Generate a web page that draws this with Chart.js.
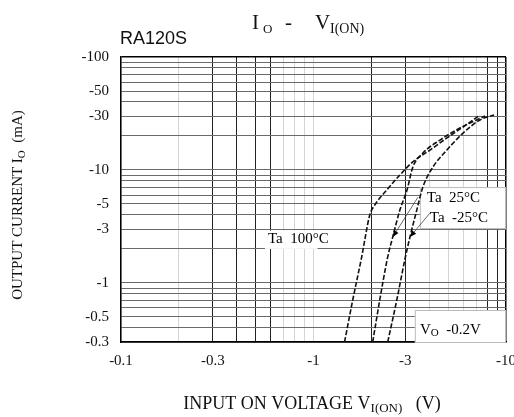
<!DOCTYPE html>
<html><head><meta charset="utf-8">
<script src="https://cdn.jsdelivr.net/npm/chart.js@4/dist/chart.umd.min.js"></script>
<style>html,body{margin:0;padding:0;background:#fff}#wrap{width:514px;height:417px;position:relative}</style>
</head><body><div id="wrap"><canvas id="c" width="514" height="417"></canvas></div>
<script>
// ---- data (magnitudes; axis labels carry the minus sign) ----
const seriesNames = ['Ta  100°C', 'Ta  25°C', 'Ta  -25°C'];
const vin100 = [1.45, 1.60, 1.78, 1.96, 2.08, 2.40, 2.81, 3.28, 4.03, 4.93, 5.98, 7.32];
const io100  = [0.30, 0.71, 1.70, 3.99, 4.89, 6.64, 9.02, 11.8, 15.0, 19.2, 24.0, 30.6];
const vin25  = [2.03, 2.21, 2.43, 2.58, 2.81, 3.06, 3.28, 3.70, 4.54, 5.76, 7.78];
const io25   = [0.30, 0.71, 1.70, 2.55, 4.42, 6.64, 10.6, 14.1, 18.4, 23.5, 30.0];
const vinM25 = [2.43, 2.71, 2.98, 3.17, 3.44, 3.70, 4.17, 4.93, 5.98, 7.32, 8.67];
const ioM25  = [0.30, 0.71, 1.60, 2.55, 4.42, 7.06, 10.6, 15.0, 21.2, 27.7, 30.6];

const xTickValues = [0.1, 0.3, 1, 3, 10];
const xTickLabels = ['-0.1', '-0.3', '-1', '-3', '-10'];
const yTickValues = [0.3, 0.5, 1, 3, 5, 10, 30, 50, 100];
const yTickLabels = ['-0.3', '-0.5', '-1', '-3', '-5', '-10', '-30', '-50', '-100'];

// annotation anchors in data units
const arrowTips = [[2.58, 2.55], [3.17, 2.55]];
const arrowTails = [[3.49, 5.74], [4.02, 4.14]];

function logGrid(min, max) {
  const out = [];
  for (let e = -2; e <= 3; e++) for (let m = 1; m <= 9; m++) {
    const v = +(m * Math.pow(10, e)).toPrecision(6);
    if (v >= min - 1e-9 && v <= max + 1e-9) out.push(v);
  }
  return out;
}
const xGrid = logGrid(0.1, 10);
const yGrid = logGrid(0.3, 100);
const near = (a, b) => Math.abs(a - b) / b < 1e-6;
const lookup = (v, vals, labs) => { const i = vals.findIndex(t => near(v, t)); return i >= 0 ? labs[i] : ''; };
const darkX = [0.3, 0.4, 0.5, 0.6, 2, 3, 8, 9];

const SERIF = '"Liberation Serif", "DejaVu Serif", serif';

function runs(ctx, x, y, parts) {
  let cx = x;
  for (const p of parts) {
    ctx.font = p.size + 'px ' + (p.family || SERIF);
    ctx.fillText(p.t, cx, y + (p.dy || 0));
    cx += ctx.measureText(p.t).width;
  }
  return cx - x;
}
function runsWidth(ctx, parts) {
  let w = 0;
  for (const p of parts) { ctx.font = p.size + 'px ' + (p.family || SERIF); w += ctx.measureText(p.t).width; }
  return w;
}

const deco = {
  id: 'deco',
  beforeDatasetsDraw(chart) {
    const { ctx, scales: { x, y } } = chart;
    ctx.save();
    ctx.fillStyle = '#fff';
    ctx.strokeStyle = '#bbb';
    ctx.lineWidth = 1;
    // Ta 100 label box
    let bx = x.getPixelForValue(0.56), by = y.getPixelForValue(2.9);
    let bx2 = x.getPixelForValue(1.05), by2 = y.getPixelForValue(2.0);
    ctx.fillRect(bx, by, bx2 - bx, by2 - by);
    // Ta 25 / -25 box
    bx = x.getPixelForValue(3.57); by = y.getPixelForValue(7.06);
    bx2 = x.getPixelForValue(10); by2 = y.getPixelForValue(3.06);
    ctx.fillRect(bx, by, bx2 - bx, by2 - by);
    ctx.strokeRect(bx + 0.5, by + 0.5, bx2 - bx - 1, by2 - by);
    // Vo box
    bx = x.getPixelForValue(3.36); by = y.getPixelForValue(0.576);
    bx2 = x.getPixelForValue(10); by2 = y.getPixelForValue(0.3);
    ctx.fillRect(bx, by, bx2 - bx, by2 - by);
    ctx.strokeRect(bx + 0.5, by + 0.5, bx2 - bx - 1, by2 - by);
    ctx.restore();
  },
  afterDatasetsDraw(chart) {
    const { ctx, scales: { x, y } } = chart;
    ctx.save();
    ctx.fillStyle = '#000';
    ctx.textBaseline = 'middle';
    ctx.textAlign = 'left';
    ctx.font = '15px ' + SERIF;
    ctx.fillText(seriesNames[0], x.getPixelForValue(0.58), y.getPixelForValue(2.45));
    ctx.fillText(seriesNames[1], x.getPixelForValue(3.88), y.getPixelForValue(5.64));
    ctx.fillText(seriesNames[2], x.getPixelForValue(4.02), y.getPixelForValue(3.75));
    runs(ctx, x.getPixelForValue(3.57), y.getPixelForValue(0.383), [
      { t: 'V', size: 15 }, { t: 'O', size: 11, dy: 3 }, { t: '  -0.2V', size: 15 }]);
    // leader lines with arrowheads
    ctx.strokeStyle = '#444';
    ctx.lineWidth = 0.8;
    for (let i = 0; i < arrowTips.length; i++) {
      const tx = x.getPixelForValue(arrowTips[i][0]), ty = y.getPixelForValue(arrowTips[i][1]);
      const sx = x.getPixelForValue(arrowTails[i][0]), sy = y.getPixelForValue(arrowTails[i][1]);
      ctx.beginPath(); ctx.moveTo(sx, sy); ctx.lineTo(tx, ty); ctx.stroke();
      const a = Math.atan2(ty - sy, tx - sx), L = 7, W = 0.4;
      ctx.beginPath();
      ctx.moveTo(tx, ty);
      ctx.lineTo(tx - L * Math.cos(a - W), ty - L * Math.sin(a - W));
      ctx.lineTo(tx - L * Math.cos(a + W), ty - L * Math.sin(a + W));
      ctx.closePath(); ctx.fill();
    }
    ctx.restore();
  },
  afterDraw(chart) {
    const { ctx } = chart;
    ctx.save();
    ctx.fillStyle = '#111';
    ctx.textBaseline = 'alphabetic';
    ctx.textAlign = 'left';
    // title
    ctx.font = '21px ' + SERIF; ctx.fillText('I', 252, 29);
    ctx.font = '13px ' + SERIF; ctx.fillText('O', 263, 33);
    ctx.font = '21px ' + SERIF; ctx.fillText('-', 285, 29);
    ctx.font = '21px ' + SERIF; ctx.fillText('V', 315, 29);
    ctx.font = '14px ' + SERIF; ctx.fillText('I(ON)', 330, 33);
    // device name
    ctx.font = '18px "Liberation Sans", Arial, sans-serif';
    ctx.fillText('RA120S', 120, 44);
    // x axis title
    const xparts = [{ t: 'INPUT ON VOLTAGE V', size: 18 }, { t: 'I(ON)', size: 13, dy: 3 }, { t: '   (V)', size: 18 }];
    const xw = runsWidth(ctx, xparts);
    runs(ctx, 312 - xw / 2, 409, xparts);
    // y axis title
    const yparts = [{ t: 'OUTPUT CURRENT I', size: 15 }, { t: 'O', size: 11, dy: 3 }, { t: '  (mA)', size: 15 }];
    const yw = runsWidth(ctx, yparts);
    ctx.translate(22, 205);
    ctx.rotate(-Math.PI / 2);
    runs(ctx, -yw / 2, 0, yparts);
    ctx.restore();
  }
};

const mk = (vx, vy) => vx.map((v, i) => ({ x: v, y: vy[i] }));
const lineStyle = {
  showLine: true, borderColor: '#111', borderWidth: 1.6, borderDash: [5, 2],
  pointRadius: 0, cubicInterpolationMode: 'monotone', fill: false
};

new Chart(document.getElementById('c'), {
  type: 'scatter',
  data: {
    datasets: [
      Object.assign({ label: seriesNames[0], data: mk(vin100, io100) }, lineStyle),
      Object.assign({ label: seriesNames[1], data: mk(vin25, io25) }, lineStyle),
      Object.assign({ label: seriesNames[2], data: mk(vinM25, ioM25) }, lineStyle)
    ]
  },
  options: {
    responsive: false,
    animation: false,
    devicePixelRatio: 1,
    layout: { padding: { top: 57, right: 8, left: 0, bottom: 0 } },
    plugins: { legend: { display: false }, tooltip: { enabled: false }, title: { display: false } },
    scales: {
      x: {
        type: 'logarithmic', min: 0.1, max: 10,
        afterBuildTicks: s => { s.ticks = xGrid.map(v => ({ value: v })); },
        afterFit: s => { s.height = 75; s.paddingLeft = 0; s.paddingRight = 0; },
        ticks: {
          autoSkip: false, maxRotation: 0, padding: 10, color: '#111',
          font: { family: SERIF, size: 15 },
          callback: v => lookup(v, xTickValues, xTickLabels)
        },
        grid: {
          drawTicks: false,
          color: c => { const v = c.tick ? c.tick.value : 0; if (near(v, 10)) return '#000'; return darkX.some(t => near(v, t)) ? '#222' : '#d4d4d4'; },
          lineWidth: c => (c.tick && near(c.tick.value, 10)) ? 1.5 : 1
        },
        border: { display: true, color: '#000', width: 1.5 }
      },
      y: {
        type: 'logarithmic', min: 0.3, max: 100,
        afterBuildTicks: s => { s.ticks = yGrid.map(v => ({ value: v })); },
        afterFit: s => { s.width = 121; s.paddingTop = 0; s.paddingBottom = 0; },
        ticks: {
          autoSkip: false, padding: 12, color: '#111',
          font: { family: SERIF, size: 15 },
          callback: v => lookup(v, yTickValues, yTickLabels)
        },
        grid: {
          drawTicks: false,
          color: c => (c.tick && near(c.tick.value, 100)) ? '#000' : '#6a6a6a',
          lineWidth: c => (c.tick && near(c.tick.value, 100)) ? 1.5 : 1
        },
        border: { display: true, color: '#000', width: 1.5 }
      }
    }
  },
  plugins: [deco]
});
</script></body></html>
